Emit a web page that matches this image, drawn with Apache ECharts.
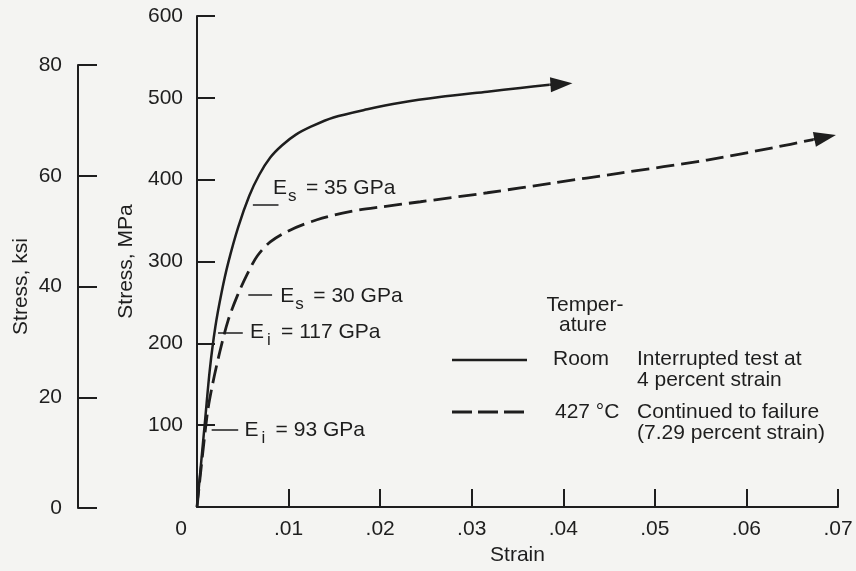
<!DOCTYPE html>
<html lang="en">
<head>
<meta charset="UTF-8">
<title>Stress-strain curves</title>
<script src="https://cdn.jsdelivr.net/npm/echarts@6/dist/echarts.min.js"></script>
<style>
    html,body{margin:0;padding:0;background:#f4f4f2;}
    #chart{width:856px;height:571px;}
</style>
</head>
<body>
<div id="chart"></div>
<script>
    // axes: [min, max, interval]
    const strainAxis = [0, 0.07, 0.01];
    const mpaAxis = [0, 600, 100];
    const ksiAxis = [0, 80, 20];

    // room temperature, interrupted at 4 percent (strain, MPa)
    const roomCurve = [[0,0],[0.0009,108],[0.0014,168],[0.002,220],[0.0027,263],[0.0034,298],[0.0045,342],
        [0.0057,380],[0.0068,406],[0.008,427],[0.0093,442],[0.0108,455],[0.0125,465],[0.0149,476],
        [0.0186,486],[0.0222,494],[0.0265,501],[0.0317,507.5],[0.0353,512],[0.0385,516]];
    const roomArrow = [[0.0385,516],[0.0398,517]];

    // 427 C, continued to failure
    const hotCurve = [[0,0],[0.0011,112],[0.0017,150],[0.0025,190],[0.0034,228],[0.0044,258],[0.0055,285],
        [0.0066,307],[0.008,324],[0.0101,338],[0.0131,351],[0.0167,361],[0.0203,367],[0.0244,373],
        [0.0317,384],[0.0389,396],[0.0462,408],[0.0557,424],[0.0629,439],[0.0673,449]];
    const hotArrow = [[0.0673,449],[0.0686,452]];

    // modulus notes: leader [from, to, MPa], text anchor [strain, MPa]
    const leaders = [[0.0061,0.0089,369],[0.0056,0.0082,259],[0.0023,0.005,213],[0.0016,0.0045,94]];
    const noteAnchors = [[0.0083,389],[0.0091,257],[0.0058,213],[0.0052,94]];
    const noteSubs = ['s','s','i','i'];
    const noteValues = ['= 35 GPa','= 30 GPa','= 117 GPa','= 93 GPa'];

    const FONT = '"Liberation Sans", Arial, sans-serif';
    const INK = '#1e1e1e';
    const FS = 21;

    const chart = echarts.init(document.getElementById('chart'));

    function strainLabel(v){
        if(v === 0) return '{z|0}';
        return v.toFixed(2).replace(/^0/, '');
    }

    const axisBase = {
        axisLine:{show:true, lineStyle:{color:INK, width:2}},
        axisTick:{show:true, inside:true, length:18, lineStyle:{color:INK, width:2}},
        splitLine:{show:false},
        nameTextStyle:{color:INK, fontSize:FS, fontFamily:FONT},
    };

    const option = {
        backgroundColor:'#f4f4f2',
        animation:false,
        grid:[
            {left:197, top:16, right:18, bottom:64},
            {left:78, top:65, width:60, bottom:63}
        ],
        xAxis:[
            Object.assign({}, axisBase, {
                type:'value', gridIndex:0, min:strainAxis[0], max:strainAxis[1], interval:strainAxis[2],
                name:'Strain', nameLocation:'middle', nameGap:36,
                axisLabel:{color:INK, fontSize:FS, fontFamily:FONT, margin:12, formatter:strainLabel,
                    rich:{z:{color:INK, fontSize:FS, fontFamily:FONT, padding:[0,32,0,0]}}}
            }),
            {type:'value', gridIndex:1, show:false, min:0, max:1}
        ],
        yAxis:[
            Object.assign({}, axisBase, {
                type:'value', gridIndex:0, min:mpaAxis[0], max:mpaAxis[1], interval:mpaAxis[2],
                name:'Stress, MPa', nameLocation:'middle', nameGap:58,
                axisLabel:{color:INK, fontSize:FS, fontFamily:FONT, margin:14,
                    formatter:v => v === 0 ? '' : String(v)}
            }),
            Object.assign({}, axisBase, {
                type:'value', gridIndex:1, min:ksiAxis[0], max:ksiAxis[1], interval:ksiAxis[2],
                name:'Stress, ksi', nameLocation:'middle', nameGap:46,
                axisTick:{show:true, inside:true, length:19, lineStyle:{color:INK, width:2}},
                axisLabel:{color:INK, fontSize:FS, fontFamily:FONT, margin:16}
            })
        ],
        series:[
            {
                name:'Room', type:'line', xAxisIndex:0, yAxisIndex:0,
                data:roomCurve, showSymbol:false, smooth:0.3,
                lineStyle:{color:INK, width:2.5}, silent:true,
                markLine:{
                    silent:true, symbol:['none','triangle'], symbolSize:[15,22],
                    label:{show:false}, lineStyle:{color:INK, width:2.5, type:'solid'},
                    itemStyle:{color:INK},
                    data:[[{coord:roomArrow[0]},{coord:roomArrow[1]}]]
                }
            },
            {
                name:'427 °C', type:'line', xAxisIndex:0, yAxisIndex:0,
                data:hotCurve, showSymbol:false, smooth:0.3,
                lineStyle:{color:INK, width:2.8, type:[18,7]}, silent:true,
                markLine:{
                    silent:true, symbol:['none','triangle'], symbolSize:[15,22],
                    label:{show:false}, lineStyle:{color:INK, width:2.5, type:'solid'},
                    itemStyle:{color:INK},
                    data:[[{coord:hotArrow[0]},{coord:hotArrow[1]}]]
                }
            },
            {
                name:'leaders', type:'line', xAxisIndex:0, yAxisIndex:0, data:[], silent:true,
                markLine:{
                    silent:true, symbol:['none','none'], label:{show:false},
                    lineStyle:{color:INK, width:1.5, type:'solid'},
                    data:leaders.map(l => [{coord:[l[0], l[2]]},{coord:[l[1], l[2]]}])
                }
            }
        ]
    };
    chart.setOption(option);

    function txt(x, y, text, size, align){
        return {type:'text', x:x, y:y, silent:true,
            style:{text:text, fill:INK, fontSize:size, fontFamily:FONT, align:align || 'left', verticalAlign:'middle'}};
    }

    let graphic = [];
    for(let i=0;i<noteAnchors.length;i++){
        const p = chart.convertToPixel({gridIndex:0}, noteAnchors[i]);
        const isS = noteSubs[i] === 's';
        graphic.push(txt(p[0], p[1], 'E', FS));
        graphic.push(txt(p[0] + (isS ? 15 : 17), p[1] + 8, noteSubs[i], 17));
        graphic.push(txt(p[0] + (isS ? 33 : 31), p[1], noteValues[i], FS));
    }

    // legend block
    graphic.push(txt(585, 305, 'Temper-', FS, 'center'));
    graphic.push(txt(583, 325, 'ature', FS, 'center'));
    graphic.push({type:'line', silent:true, shape:{x1:452, y1:360, x2:527, y2:360}, style:{stroke:INK, lineWidth:2.5}});
    graphic.push(txt(553, 359, 'Room', FS));
    graphic.push(txt(637, 359, 'Interrupted test at', FS));
    graphic.push(txt(637, 380, '4 percent strain', FS));
    graphic.push({type:'line', silent:true, shape:{x1:452, y1:412, x2:527, y2:412}, style:{stroke:INK, lineWidth:2.8, lineDash:[20,6]}});
    graphic.push(txt(555, 412, '427 °C', FS));
    graphic.push(txt(637, 412, 'Continued to failure', FS));
    graphic.push(txt(637, 433, '(7.29 percent strain)', FS));

    chart.setOption({graphic:graphic});
</script>
</body>
</html>
